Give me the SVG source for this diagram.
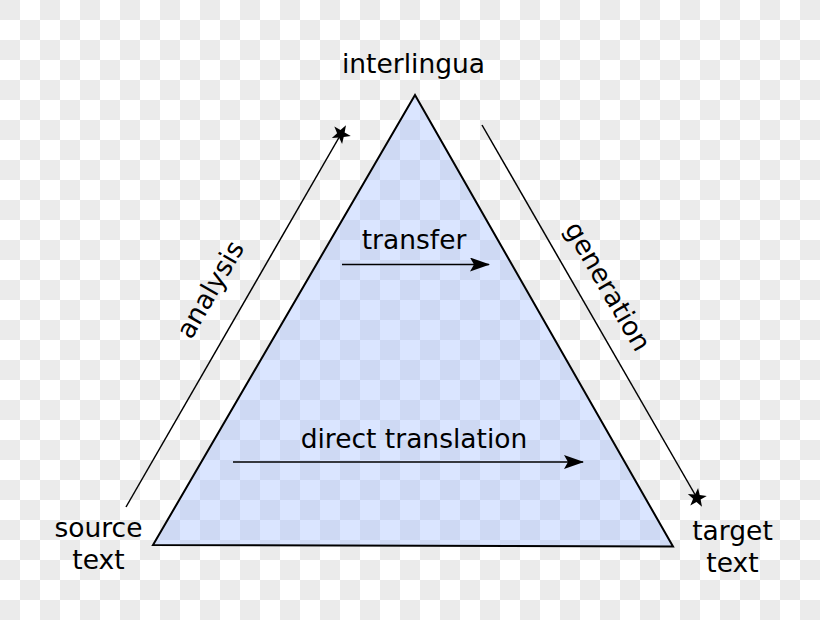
<svg xmlns="http://www.w3.org/2000/svg" width="820" height="620" viewBox="0 0 820 620">
  <defs>
    <pattern id="checker" x="0" y="0" width="40" height="40" patternUnits="userSpaceOnUse">
      <rect width="40" height="40" fill="#ffffff"/>
      <rect x="0" y="0" width="20" height="20" fill="#ebebeb"/>
      <rect x="20" y="20" width="20" height="20" fill="#ebebeb"/>
    </pattern>
    <marker id="arrow" viewBox="0 0 20 14" refX="19" refY="7" markerWidth="20" markerHeight="14" markerUnits="userSpaceOnUse" orient="auto">
      <path d="M0,0 L20,7 L0,14 L4,7 Z" fill="#000"/>
    </marker>
    <marker id="star" viewBox="-10 -10 20 20" refX="0" refY="0" markerWidth="20" markerHeight="20" markerUnits="userSpaceOnUse" orient="auto">
      <polygon points="10,0 3.1,2.4 3.1,9.5 -1.2,3.8 -8.1,5.9 -3.9,0 -8.1,-5.9 -1.2,-3.8 3.1,-9.5 3.1,-2.4" fill="#000"/>
    </marker>
  </defs>
  <style>
    text { font-family: "DejaVu Sans", "Noto Sans", sans-serif; font-size: 26.5px; fill: #000; }
    .line { stroke: #000; stroke-width: 1.5; fill: none; }
  </style>
  <rect width="820" height="620" fill="url(#checker)"/>

  <g id="triangle">
    <polygon points="415,95 153,545 673,546.5" fill="#a8c2ff" fill-opacity="0.42" stroke="#000" stroke-width="2" stroke-linejoin="miter"/>
  </g>

  <g id="connectors">
    <line class="line" x1="126" y1="507" x2="341" y2="134" marker-end="url(#star)"/>
    <line class="line" x1="482" y1="125" x2="697" y2="498" marker-end="url(#star)"/>
    <line class="line" x1="342" y1="264.5" x2="489" y2="264.5" marker-end="url(#arrow)"/>
    <line class="line" x1="233" y1="462" x2="583" y2="462" marker-end="url(#arrow)"/>
  </g>

  <g id="interlingua">
    <text x="413.5" y="73" text-anchor="middle">interlingua</text>
  </g>
  <g id="source">
    <text x="98.5" y="537" text-anchor="middle">source</text>
    <text x="98.5" y="569" text-anchor="middle">text</text>
  </g>
  <g id="target">
    <text x="732.5" y="540" text-anchor="middle">target</text>
    <text x="732.5" y="572" text-anchor="middle">text</text>
  </g>
  <g id="transfer">
    <text x="414" y="249" text-anchor="middle">transfer</text>
  </g>
  <g id="direct">
    <text x="414" y="448" text-anchor="middle">direct translation</text>
  </g>
  <g id="analysis">
    <text x="218" y="294" text-anchor="middle" transform="rotate(-60 218 294)">analysis</text>
  </g>
  <g id="generation">
    <text x="600" y="291" text-anchor="middle" transform="rotate(60 600 291)">generation</text>
  </g>
</svg>
